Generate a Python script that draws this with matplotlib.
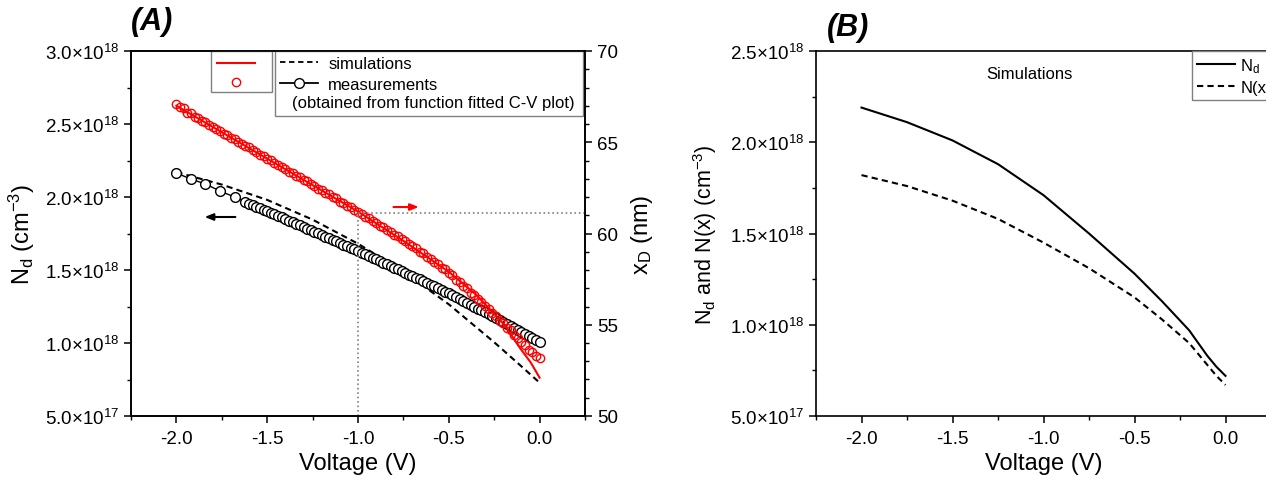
import numpy as np
import matplotlib
matplotlib.use("Agg")
import matplotlib.pyplot as plt
from matplotlib.lines import Line2D
from matplotlib.patches import Rectangle
from matplotlib.ticker import FuncFormatter, MultipleLocator

plt.rcParams['font.family'] = ['Liberation Sans', 'DejaVu Sans']
plt.rcParams['mathtext.default'] = 'regular'

# ---------------- panel (A) data ----------------
# red circles: depletion width x_D (nm), measured, V from -2.0 to 0.0 step 0.02
xd_meas = [67.10, 66.95, 66.85, 66.62, 66.58, 66.40, 66.35, 66.15, 66.10, 65.92,
           65.86, 65.70, 65.63, 65.45, 65.40, 65.22, 65.18, 65.02, 64.92, 64.80,
           64.72, 64.55, 64.48, 64.30, 64.25, 64.08, 64.02, 63.85, 63.78, 63.62,
           63.55, 63.38, 63.33, 63.15, 63.10, 62.92, 62.86, 62.70, 62.62, 62.45,
           62.40, 62.22, 62.15, 62.00, 61.92, 61.75, 61.68, 61.52, 61.45, 61.28,
           61.20, 61.09, 60.93, 60.84, 60.68, 60.60, 60.43, 60.35, 60.18, 60.10,
           59.93, 59.85, 59.68, 59.60, 59.42, 59.33, 59.19, 59.00, 58.91, 58.71,
           58.62, 58.42, 58.34, 58.13, 58.04, 57.83, 57.71, 57.47, 57.35, 57.11,
           56.99, 56.75, 56.63, 56.39, 56.27, 56.03, 55.89, 55.63, 55.49, 55.23,
           55.09, 54.83, 54.69, 54.43, 54.29, 54.03, 53.87, 53.62, 53.48, 53.28,
           53.20]
v_xd = np.linspace(-2.0, 0.0, len(xd_meas))

# red line: fitted x_D
v_fit = [-2.0, -1.75, -1.5, -1.25, -1.0, -0.75, -0.5, -0.35, -0.25, -0.19, -0.11, -0.05, 0.0]
xd_fit = [67.0, 65.55, 64.1, 62.65, 61.2, 59.6, 57.9, 56.65, 55.6, 54.95, 53.75, 52.95, 52.1]

# black circles: N_d measured (x1e18 cm^-3), sparse part then dense part
v_nd_sparse = [-2.0, -1.92, -1.84, -1.76, -1.68]
nd_sparse = [2.164, 2.123, 2.089, 2.041, 2.000]
nd_dense = [1.966, 1.955, 1.945, 1.934, 1.924, 1.913, 1.903, 1.892, 1.882, 1.871,
            1.861, 1.850, 1.839, 1.828, 1.817, 1.806, 1.795, 1.784, 1.773, 1.762,
            1.751, 1.740, 1.729, 1.718, 1.707, 1.696, 1.685, 1.674, 1.663, 1.652,
            1.641, 1.630, 1.619, 1.607, 1.596, 1.584, 1.573, 1.561, 1.550, 1.538,
            1.527, 1.515, 1.504, 1.492, 1.481, 1.469, 1.458, 1.446, 1.435, 1.423,
            1.412, 1.400, 1.388, 1.376, 1.364, 1.352, 1.340, 1.327, 1.314, 1.301,
            1.288, 1.275, 1.262, 1.249, 1.236, 1.223, 1.210, 1.197, 1.184, 1.171,
            1.158, 1.145, 1.131, 1.117, 1.103, 1.089, 1.075, 1.061, 1.047, 1.033,
            1.019, 1.010]
v_nd_dense = np.linspace(-1.62, 0.0, len(nd_dense))

# black dashed: simulated N_d (x1e18)
v_sim = [-2.0, -1.75, -1.5, -1.25, -1.0, -0.75, -0.5, -0.25, -0.1, 0.0]
nd_sim = [2.17, 2.085, 1.98, 1.845, 1.68, 1.49, 1.265, 1.005, 0.84, 0.728]

v_mark, xd_mark = -1.0, 61.1

# ---------------- panel (B) data ----------------
v_b = [-2.0, -1.75, -1.5, -1.25, -1.0, -0.75, -0.5, -0.35, -0.2, -0.1, -0.05, 0.0]
nd_b = [2.19, 2.11, 2.01, 1.88, 1.71, 1.50, 1.28, 1.13, 0.97, 0.83, 0.77, 0.72]
nx_b = [1.82, 1.76, 1.68, 1.58, 1.45, 1.31, 1.15, 1.03, 0.90, 0.78, 0.72, 0.67]

E18 = 1e18
TICK_FS = 13.5
LABEL_FS = 17


def sci(v, pos):
    if v <= 0:
        return ''
    e = int(np.floor(np.log10(v) + 1e-9))
    m = v / 10 ** e
    return '%.1f×10$^{%d}$' % (m, e)


def style(ax):
    for s in ax.spines.values():
        s.set_linewidth(1.2)
    ax.tick_params(which='major', direction='out', length=5, width=1.1, labelsize=TICK_FS)
    ax.tick_params(which='minor', direction='out', length=3, width=1.0)
    ax.tick_params(axis='x', pad=5)


fig = plt.figure(figsize=(12.66, 4.81), dpi=100)
W, H = 1266, 481

# ---------------- (A) ----------------
axA = fig.add_axes([131 / W, 1 - 417 / H, 454 / W, 365 / H])
axA2 = axA.twinx()

axA.plot(np.array(v_sim), np.array(nd_sim) * E18, 'k--', lw=1.5, dashes=(3, 2))
axA.plot(v_nd_sparse + list(v_nd_dense), (np.array(nd_sparse + nd_dense)) * E18,
         '-', color='k', lw=1.0, marker='o', ms=7, mfc='white', mec='k', mew=1.0)

axA2.plot(v_xd, xd_meas, 'o', ms=6, mfc='none', mec='red', mew=1.0)
axA2.plot(v_fit, xd_fit, '-', color='red', lw=1.5)

axA2.plot([v_mark, v_mark], [50, xd_mark], ls=':', color='gray', lw=1.2)
axA2.plot([v_mark, 0.25], [xd_mark, xd_mark], ls=':', color='gray', lw=1.2)

axA.annotate('', xy=(-1.86, 1.863 * E18), xytext=(-1.66, 1.863 * E18),
             arrowprops=dict(arrowstyle='-|>,head_length=0.5,head_width=0.2', color='k', lw=1.5))
axA2.annotate('', xy=(-0.65, 61.45), xytext=(-0.82, 61.45),
              arrowprops=dict(arrowstyle='-|>,head_length=0.5,head_width=0.2', color='red', lw=1.5))

axA.set_xlim(-2.25, 0.25)
axA.set_ylim(0.5 * E18, 3.0 * E18)
axA2.set_ylim(50, 70)
axA.xaxis.set_major_locator(MultipleLocator(0.5))
axA.xaxis.set_minor_locator(MultipleLocator(0.25))
axA.yaxis.set_major_locator(MultipleLocator(0.5 * E18))
axA.yaxis.set_minor_locator(MultipleLocator(0.25 * E18))
axA.yaxis.set_major_formatter(FuncFormatter(sci))
axA.xaxis.set_major_formatter(FuncFormatter(lambda v, p: '%.1f' % v))
axA2.yaxis.set_major_locator(MultipleLocator(5))
axA2.yaxis.set_minor_locator(MultipleLocator(1))
style(axA)
style(axA2)
axA.set_xlabel('Voltage (V)', fontsize=LABEL_FS, labelpad=4)
axA.set_ylabel('N$_d$ (cm$^{-3}$)', fontsize=LABEL_FS, labelpad=6)
axA2.set_ylabel('x$_D$ (nm)', fontsize=LABEL_FS, labelpad=8)

# legend frames
axA2.add_patch(Rectangle((0.176, 0.888), 0.135, 0.112, transform=axA2.transAxes,
                         fill=False, ec='gray', lw=1.0, clip_on=False))
axA2.add_patch(Rectangle((0.317, 0.822), 0.679, 0.178, transform=axA2.transAxes,
                         fill=False, ec='gray', lw=1.0, clip_on=False))
leg1 = axA2.legend(handles=[Line2D([], [], color='red', lw=1.5),
                            Line2D([], [], ls='none', marker='o', ms=6, mfc='none', mec='red')],
                   labels=['', ''], loc='upper left', bbox_to_anchor=(0.176, 1.0),
                   frameon=False, fontsize=12, handlelength=2.3, handletextpad=0,
                   borderaxespad=0, borderpad=0.35, labelspacing=0.25)
axA2.add_artist(leg1)
axA2.legend(handles=[Line2D([], [], color='k', ls='--', dashes=(3, 2), lw=1.3),
                     Line2D([], [], color='k', lw=1.3, marker='o', ms=7, mfc='white', mec='k')],
            labels=['simulations', 'measurements'], loc='upper left',
            bbox_to_anchor=(0.317, 1.0), frameon=False, fontsize=12,
            handlelength=2.3, handletextpad=0.6, borderaxespad=0, borderpad=0.3,
            labelspacing=0.35)
axA2.text(0.355, 0.858, '(obtained from function fitted C-V plot)', transform=axA2.transAxes,
          fontsize=12, va='center', ha='left')

fig.text(152 / W, 1 - 22 / H, '(A)', fontsize=22, fontweight='bold', fontstyle='italic',
         ha='center', va='center')

# ---------------- (B) ----------------
axB = fig.add_axes([816 / W, 1 - 417 / H, 455 / W, 365 / H])
axB.plot(v_b, np.array(nd_b) * E18, '-', color='k', lw=1.5, label='N$_d$')
axB.plot(v_b, np.array(nx_b) * E18, '--', color='k', lw=1.5, dashes=(3, 2), label='N(x)')
axB.set_xlim(-2.25, 0.25)
axB.set_ylim(0.5 * E18, 2.5 * E18)
axB.xaxis.set_major_locator(MultipleLocator(0.5))
axB.xaxis.set_minor_locator(MultipleLocator(0.25))
axB.yaxis.set_major_locator(MultipleLocator(0.5 * E18))
axB.yaxis.set_minor_locator(MultipleLocator(0.25 * E18))
axB.yaxis.set_major_formatter(FuncFormatter(sci))
axB.xaxis.set_major_formatter(FuncFormatter(lambda v, p: '%.1f' % v))
style(axB)
axB.tick_params(right=False)
axB.set_xlabel('Voltage (V)', fontsize=LABEL_FS, labelpad=4)
axB.set_ylabel('N$_d$ and N(x) (cm$^{-3}$)', fontsize=15.5, labelpad=8)
axB.text(0.47, 0.937, 'Simulations', transform=axB.transAxes, fontsize=12,
         ha='center', va='center')
legB = axB.legend(loc='upper left', bbox_to_anchor=(0.826, 1.0), fontsize=12,
                  fancybox=False, edgecolor='gray', framealpha=1, borderaxespad=0,
                  handlelength=2.3, handletextpad=0.3, borderpad=0.3, labelspacing=0.3)
legB.get_frame().set_linewidth(1.0)

fig.text(848 / W, 1 - 28 / H, '(B)', fontsize=22, fontweight='bold', fontstyle='italic',
         ha='center', va='center')

fig.savefig('out.png', dpi=100)
